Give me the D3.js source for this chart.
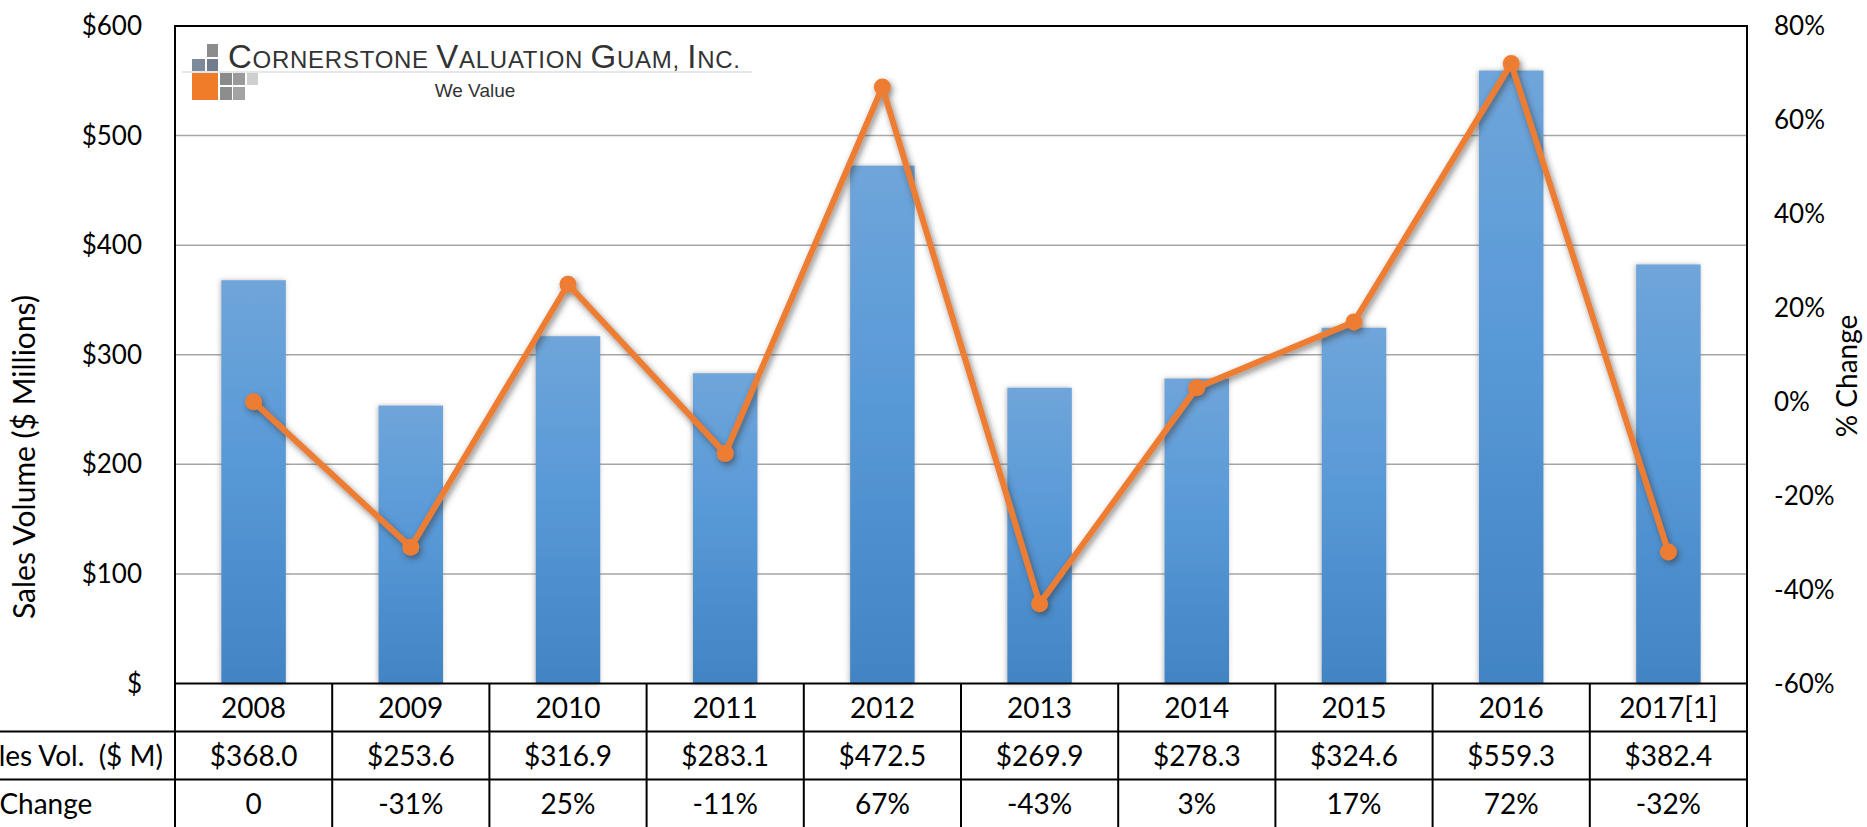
<!DOCTYPE html>
<html lang="en">
<head>
<meta charset="UTF-8">
<script src="https://d3js.org/d3.v7.min.js"></script>
<style>
  body { margin: 0; background: #fff; }
  text { font-family: Lato, "Open Sans", sans-serif; fill: #000; }
  .tick-label { font-size: 26px; }
  .cell { font-size: 28px; }
  .grid { stroke: #a6a6a6; stroke-width: 1.5; }
  .frame { stroke: #000; stroke-width: 2; fill: none; }
</style>
</head>
<body>
<svg class="chart"></svg>
<script>

// data
const years = ["2008", "2009", "2010", "2011", "2012", "2013", "2014", "2015", "2016", "2017[1]"];
const salesVolume = [368.0, 253.6, 316.9, 283.1, 472.5, 269.9, 278.3, 324.6, 559.3, 382.4];
const pctChange = [0, -31, 25, -11, 67, -43, 3, 17, 72, -32];
const leftTicks = [0, 100, 200, 300, 400, 500, 600];
const rightTicks = [-60, -40, -20, 0, 20, 40, 60, 80];
const rowLabels = ["Sales Vol.  ($ M)", "% Change"];

const W = 1867, H = 827;
const plot = {left: 175, right: 1747, top: 26, bottom: 683.5};
const rowH = 48;

let svg = d3.select(".chart")
    .attr("width", W)
    .attr("height", H);

let defs = svg.append("defs");

let grad = defs.append("linearGradient")
    .attr("id", "barGrad")
    .attr("x1", 0).attr("y1", 0).attr("x2", 0).attr("y2", 1);
grad.append("stop").attr("offset", "0%").attr("stop-color", "#6fa5da");
grad.append("stop").attr("offset", "45%").attr("stop-color", "#5899d7");
grad.append("stop").attr("offset", "100%").attr("stop-color", "#4284c4");

defs.append("filter").attr("id", "barShadow")
    .attr("x", "-20%").attr("y", "-5%").attr("width", "140%").attr("height", "110%")
  .append("feDropShadow")
    .attr("dx", -1).attr("dy", 0).attr("stdDeviation", 2.5)
    .attr("flood-color", "#666").attr("flood-opacity", 0.45);

defs.append("filter").attr("id", "lineShadow")
    .attr("x", "-10%").attr("y", "-10%").attr("width", "120%").attr("height", "120%")
  .append("feDropShadow")
    .attr("dx", 2).attr("dy", 3).attr("stdDeviation", 3)
    .attr("flood-color", "#333").attr("flood-opacity", 0.6);

// scales
let x = d3.scaleBand()
    .domain(years)
    .range([plot.left, plot.right])
    .padding(0);

let y = d3.scaleLinear()
    .domain([0, 600])
    .range([plot.bottom, plot.top]);

let y2 = d3.scaleLinear()
    .domain([-60, 80])
    .range([plot.bottom, plot.top]);

// gridlines
svg.append("g")
    .attr("class", "grid")
  .selectAll("line")
  .data(leftTicks.filter(d => d > 0 && d < 600))
  .join("line")
    .attr("x1", plot.left)
    .attr("x2", plot.right)
    .attr("y1", d => y(d))
    .attr("y2", d => y(d));

// logo
let logo = svg.append("g").attr("class", "logo");
logo.append("line")
    .attr("x1", 182).attr("x2", 752).attr("y1", 72).attr("y2", 72)
    .attr("stroke", "#e4e8ec").attr("stroke-width", 2);
const squares = [
  [207, 44, 11, 13, "#8c8c8c"],
  [192, 59, 13, 12, "#7d8a99"],
  [207, 59, 11, 12, "#6f7d8d"],
  [192, 73, 26, 27, "#f07c2a"],
  [220, 73, 12, 12, "#8a8a8a"],
  [233, 73, 12, 12, "#9a9a9a"],
  [247, 73, 11, 12, "#cfcfcf"],
  [220, 87, 12, 13, "#8d8d8d"],
  [233, 87, 12, 13, "#a3a3a3"]
];
logo.selectAll("rect")
  .data(squares)
  .join("rect")
    .attr("x", d => d[0]).attr("y", d => d[1])
    .attr("width", d => d[2]).attr("height", d => d[3])
    .attr("fill", d => d[4]);

let name = logo.append("text")
    .attr("x", 228).attr("y", 68)
    .attr("textLength", 512)
    .style("font-family", "'Liberation Sans', Arial, sans-serif")
    .style("fill", "#333");
[["C", 33], ["ORNERSTONE ", 24], ["V", 33], ["ALUATION ", 24], ["G", 33], ["UAM, ", 24], ["I", 33], ["NC.", 24]]
  .forEach(p => name.append("tspan").style("font-size", p[1] + "px").text(p[0]));
name.attr("xml:space", "preserve");

logo.append("text")
    .attr("x", 475).attr("y", 97)
    .attr("text-anchor", "middle")
    .style("font-family", "'Liberation Sans', Arial, sans-serif")
    .style("font-size", "19px")
    .style("fill", "#333")
    .text("We Value");

// bars
const barW = x.bandwidth() * 0.41;
svg.append("g")
    .attr("class", "bars")
  .selectAll("rect")
  .data(years)
  .join("rect")
    .attr("x", (d, i) => x(d) + x.bandwidth() / 2 - barW / 2)
    .attr("y", (d, i) => y(salesVolume[i]))
    .attr("width", barW)
    .attr("height", (d, i) => y(0) - y(salesVolume[i]))
    .attr("fill", "url(#barGrad)")
    .attr("filter", "url(#barShadow)");

// line
let lineG = svg.append("g").attr("filter", "url(#lineShadow)");
let line = d3.line()
    .x((d, i) => x(years[i]) + x.bandwidth() / 2)
    .y(d => y2(d));
lineG.append("path")
    .datum(pctChange)
    .attr("d", line)
    .attr("fill", "none")
    .attr("stroke", "#ed7d31")
    .attr("stroke-width", 6)
    .attr("stroke-linejoin", "round");
lineG.selectAll("circle")
  .data(pctChange)
  .join("circle")
    .attr("cx", (d, i) => x(years[i]) + x.bandwidth() / 2)
    .attr("cy", d => y2(d))
    .attr("r", 8.5)
    .attr("fill", "#ed7d31");

// frame
svg.append("rect")
    .attr("class", "frame")
    .attr("x", plot.left).attr("y", plot.top)
    .attr("width", plot.right - plot.left)
    .attr("height", plot.bottom - plot.top);

// axes labels (left, right)
svg.append("g")
  .selectAll("text")
  .data(leftTicks)
  .join("text")
    .attr("class", "tick-label")
    .attr("x", 142)
    .attr("y", d => y(d))
    .attr("dy", "0.35em")
    .attr("text-anchor", "end")
    .text(d => d === 0 ? "$" : "$" + d);

svg.append("g")
  .selectAll("text")
  .data(rightTicks)
  .join("text")
    .attr("class", "tick-label")
    .attr("x", 1774)
    .attr("y", d => y2(d))
    .attr("dy", "0.35em")
    .text(d => d + "%");

svg.append("text")
    .attr("transform", `translate(35,457) rotate(-90)`)
    .attr("text-anchor", "middle")
    .style("font-size", "30px")
    .text("Sales Volume ($ Millions)");

svg.append("text")
    .attr("transform", `translate(1857,376) rotate(-90)`)
    .attr("text-anchor", "middle")
    .style("font-size", "28px")
    .text("% Change");

// data table
let table = svg.append("g").attr("class", "table");
const t0 = plot.bottom;
table.selectAll(".hline")
  .data([1, 2])
  .join("line")
    .attr("x1", 0).attr("x2", plot.right)
    .attr("y1", d => t0 + d * rowH).attr("y2", d => t0 + d * rowH)
    .attr("stroke", "#000").attr("stroke-width", 2);
table.selectAll(".vline")
  .data(years.concat(["end"]))
  .join("line")
    .attr("x1", (d, i) => plot.left + i * x.step())
    .attr("x2", (d, i) => plot.left + i * x.step())
    .attr("y1", t0).attr("y2", H)
    .attr("stroke", "#000").attr("stroke-width", 2);

const rows = [
  years,
  salesVolume.map(d => "$" + d.toFixed(1)),
  pctChange.map(d => d === 0 ? "0" : d + "%")
];
rows.forEach((r, ri) => {
  table.append("g").selectAll("text")
    .data(r)
    .join("text")
      .attr("class", "cell")
      .attr("text-anchor", "middle")
      .attr("x", (d, i) => x(years[i]) + x.bandwidth() / 2)
      .attr("y", t0 + ri * rowH + rowH / 2)
      .attr("dy", "0.36em")
      .text(d => d);
});

// row labels, cut off at the left edge like the source
let lab1 = table.append("text")
    .attr("class", "cell")
    .attr("xml:space", "preserve")
    .attr("text-anchor", "end")
    .attr("x", 163)
    .attr("y", t0 + rowH * 1.5)
    .attr("dy", "0.36em")
    .text(rowLabels[0]);
const startX = 163 - lab1.node().getComputedTextLength();
table.append("text")
    .attr("class", "cell")
    .attr("text-anchor", "start")
    .attr("x", startX)
    .attr("y", t0 + rowH * 2.5)
    .attr("dy", "0.36em")
    .text(rowLabels[1]);

</script>
</body>
</html>
